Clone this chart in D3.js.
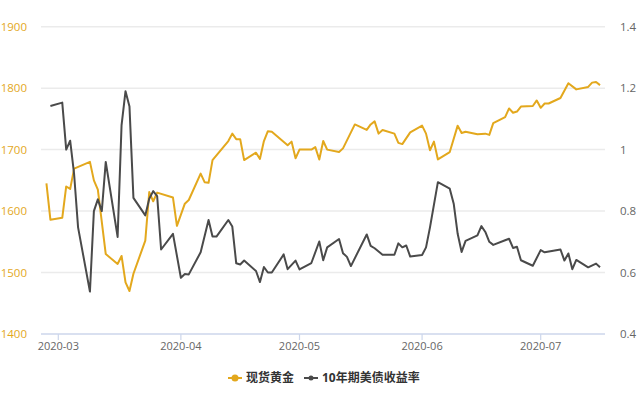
<!DOCTYPE html>
<html><head><meta charset="utf-8">
<script src="https://cdn.jsdelivr.net/npm/d3@7"></script>
<style>
body{margin:0;background:#fff;}
svg{font-family:"Open Sans","Noto Sans CJK SC",sans-serif;}
</style></head>
<body><svg id="c" width="640" height="400"></svg>
<script>
const goldDates = ["2020-02-27","2020-02-28","2020-03-02","2020-03-03","2020-03-04","2020-03-05","2020-03-09","2020-03-10","2020-03-11","2020-03-13","2020-03-16","2020-03-17","2020-03-18","2020-03-19","2020-03-20","2020-03-23","2020-03-24","2020-03-25","2020-03-26","2020-03-30","2020-03-31","2020-04-02","2020-04-03","2020-04-06","2020-04-07","2020-04-08","2020-04-09","2020-04-13","2020-04-14","2020-04-15","2020-04-16","2020-04-17","2020-04-20","2020-04-21","2020-04-22","2020-04-23","2020-04-24","2020-04-28","2020-04-29","2020-04-30","2020-05-01","2020-05-04","2020-05-05","2020-05-06","2020-05-07","2020-05-08","2020-05-11","2020-05-12","2020-05-15","2020-05-18","2020-05-19","2020-05-20","2020-05-21","2020-05-22","2020-05-25","2020-05-26","2020-05-27","2020-05-29","2020-06-01","2020-06-02","2020-06-03","2020-06-04","2020-06-05","2020-06-08","2020-06-10","2020-06-11","2020-06-12","2020-06-15","2020-06-17","2020-06-18","2020-06-19","2020-06-22","2020-06-23","2020-06-24","2020-06-25","2020-06-26","2020-06-29","2020-06-30","2020-07-01","2020-07-02","2020-07-03","2020-07-06","2020-07-08","2020-07-10","2020-07-13","2020-07-14","2020-07-15","2020-07-16"];
const goldValues = [1645,1586,1589,1640,1636,1669,1680,1650,1635,1530,1514,1527,1484,1470,1498,1552,1631,1616,1630,1622,1576,1612,1618,1661,1647,1646,1683,1714,1726,1717,1717,1683,1695,1685,1714,1730,1729,1707,1713,1686,1700,1700,1704,1684,1714,1700,1696,1702,1741,1732,1741,1746,1726,1732,1726,1711,1709,1728,1739,1726,1699,1713,1684,1696,1739,1727,1729,1725,1726,1724,1743,1753,1767,1760,1762,1770,1771,1780,1768,1775,1775,1784,1808,1798,1802,1809,1810,1805];

const yieldDates = ["2020-02-28","2020-03-02","2020-03-03","2020-03-04","2020-03-05","2020-03-06","2020-03-09","2020-03-10","2020-03-11","2020-03-12","2020-03-13","2020-03-16","2020-03-17","2020-03-18","2020-03-19","2020-03-20","2020-03-23","2020-03-24","2020-03-25","2020-03-26","2020-03-27","2020-03-30","2020-04-01","2020-04-02","2020-04-03","2020-04-06","2020-04-08","2020-04-09","2020-04-10","2020-04-13","2020-04-14","2020-04-15","2020-04-16","2020-04-17","2020-04-20","2020-04-21","2020-04-22","2020-04-23","2020-04-24","2020-04-27","2020-04-28","2020-04-30","2020-05-01","2020-05-04","2020-05-06","2020-05-07","2020-05-08","2020-05-11","2020-05-12","2020-05-13","2020-05-14","2020-05-18","2020-05-19","2020-05-20","2020-05-22","2020-05-25","2020-05-26","2020-05-27","2020-05-28","2020-05-29","2020-06-01","2020-06-02","2020-06-03","2020-06-05","2020-06-08","2020-06-09","2020-06-10","2020-06-11","2020-06-12","2020-06-15","2020-06-16","2020-06-17","2020-06-18","2020-06-19","2020-06-22","2020-06-23","2020-06-24","2020-06-25","2020-06-26","2020-06-29","2020-07-01","2020-07-02","2020-07-06","2020-07-07","2020-07-08","2020-07-09","2020-07-10","2020-07-13","2020-07-15","2020-07-16"];
const yieldValues = [1.142,1.153,1.00,1.029,0.92,0.747,0.538,0.80,0.838,0.80,0.96,0.716,1.08,1.19,1.14,0.843,0.786,0.84,0.865,0.849,0.675,0.726,0.583,0.595,0.594,0.666,0.771,0.717,0.717,0.771,0.75,0.63,0.626,0.639,0.605,0.569,0.618,0.60,0.60,0.659,0.611,0.639,0.61,0.631,0.701,0.64,0.682,0.709,0.663,0.651,0.621,0.724,0.687,0.679,0.658,0.658,0.695,0.682,0.688,0.652,0.657,0.682,0.747,0.894,0.873,0.824,0.726,0.667,0.703,0.721,0.751,0.732,0.70,0.69,0.705,0.71,0.68,0.684,0.64,0.622,0.673,0.666,0.675,0.639,0.662,0.611,0.641,0.617,0.629,0.617];

const leftTicks = [1400,1500,1600,1700,1800,1900];
const rightTicks = [0.4,0.6,0.8,1,1.2,1.4];
const monthTicks = ["2020-03-01","2020-04-01","2020-05-01","2020-06-01","2020-07-01"];
const seriesNames = ["现货黄金","10年期美债收益率"];

const GOLD = "#e3a81d", DARK = "#4a4a4a";
const parse = d3.utcParse("%Y-%m-%d");
const svg = d3.select("#c");
const plotL = 41, plotR = 605, plotT = 26.7, plotB = 334;

const x = d3.scaleUtc().domain([parse("2020-03-01"), parse("2020-07-01")]).range([58.3, 540.7]);
const yL = d3.scaleLinear().domain([1400,1900]).range([plotB, plotT]);
const yR = d3.scaleLinear().domain([0.4,1.4]).range([plotB, plotT]);

// grid
svg.append("g").selectAll("line").data(leftTicks.slice(1)).join("line")
  .attr("x1", plotL).attr("x2", plotR).attr("y1", d=>yL(d)).attr("y2", d=>yL(d))
  .attr("stroke", "#ebebeb").attr("stroke-width", 1.5);

// left axis labels
svg.append("g").selectAll("text").data(leftTicks).join("text")
  .attr("x", 27).attr("y", d=>yL(d)).attr("dy","0.35em").attr("text-anchor","end")
  .attr("fill", GOLD).attr("font-size", 11.5).text(d=>d);

// right axis labels
svg.append("g").selectAll("text").data(rightTicks).join("text")
  .attr("x", 620).attr("y", d=>yR(d)).attr("dy","0.35em").attr("text-anchor","start")
  .attr("fill", "#666").attr("font-size", 11.5).text(d=>d3.format("~g")(d));

// x axis
const xg = svg.append("g");
xg.append("line").attr("x1", plotL).attr("x2", plotR).attr("y1", plotB).attr("y2", plotB)
  .attr("stroke", "#ccd6eb").attr("stroke-width", 1.5);
xg.selectAll("line.t").data(monthTicks).join("line").attr("class","t")
  .attr("x1", d=>x(parse(d))).attr("x2", d=>x(parse(d))).attr("y1", plotB).attr("y2", plotB+6)
  .attr("stroke", "#ccd6eb").attr("stroke-width", 1.2);
xg.selectAll("text").data(monthTicks).join("text")
  .attr("x", d=>x(parse(d))).attr("y", 346).attr("dy","0.35em").attr("text-anchor","middle")
  .attr("fill", "#666").attr("font-size", 11).text(d=>d3.utcFormat("%Y-%m")(parse(d)));

// lines
const goldData = goldDates.map((d,i)=>({date:parse(d), v:goldValues[i]}));
const yieldData = yieldDates.map((d,i)=>({date:parse(d), v:yieldValues[i]}));
svg.append("path").datum(goldData)
  .attr("d", d3.line().x(d=>x(d.date)).y(d=>yL(d.v)))
  .attr("fill","none").attr("stroke", GOLD).attr("stroke-width", 2).attr("stroke-linejoin","round");
svg.append("path").datum(yieldData)
  .attr("d", d3.line().x(d=>x(d.date)).y(d=>yR(d.v)))
  .attr("fill","none").attr("stroke", DARK).attr("stroke-width", 2).attr("stroke-linejoin","round");

// legend
const lg = svg.append("g");
const legendY = 378;
const items = [
  {name: seriesNames[0], color: GOLD, x: 228, r: 3.5},
  {name: seriesNames[1], color: DARK, x: 304, r: 2.5}
];
items.forEach(it=>{
  lg.append("line").attr("x1", it.x).attr("x2", it.x+14).attr("y1", legendY).attr("y2", legendY)
    .attr("stroke", it.color).attr("stroke-width", 2);
  lg.append("circle").attr("cx", it.x+7).attr("cy", legendY).attr("r", it.r).attr("fill", it.color);
  lg.append("text").attr("x", it.x+18).attr("y", legendY).attr("dy","0.35em")
    .attr("font-size", 12).attr("font-weight","bold").attr("fill","#333").text(it.name);
});
</script></body></html>
